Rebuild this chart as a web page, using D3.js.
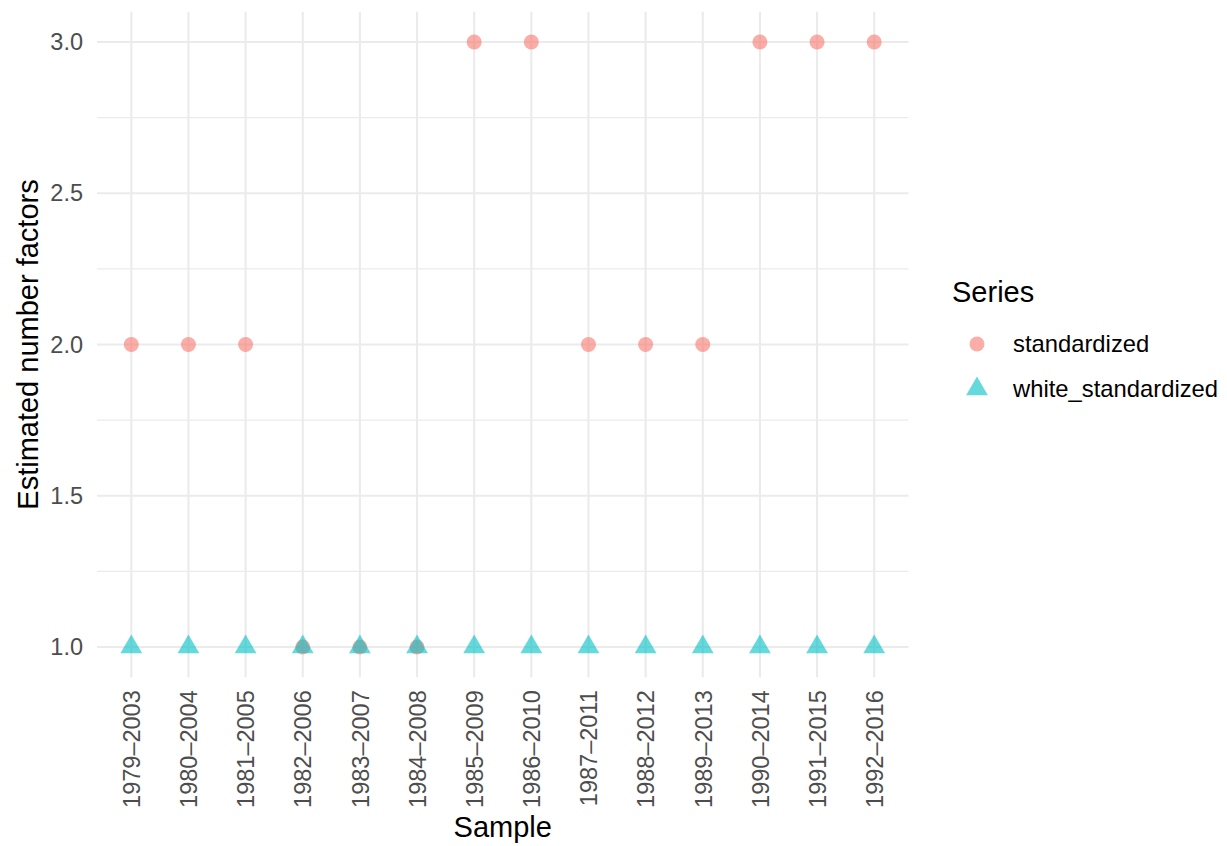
<!DOCTYPE html>
<html>
<head>
<meta charset="utf-8">
<script src="https://cdn.jsdelivr.net/npm/d3@7"></script>
<style>
  html, body { margin: 0; padding: 0; background: #fff; }
  text { font-family: "Liberation Sans", Arial, sans-serif; }
</style>
</head>
<body>
<svg id="chart" width="1227" height="846"></svg>
<script>
const categories = ["1979–2003","1980–2004","1981–2005","1982–2006","1983–2007","1984–2008","1985–2009","1986–2010","1987–2011","1988–2012","1989–2013","1990–2014","1991–2015","1992–2016"];
const standardized = [2,2,2,1,1,1,3,3,2,2,2,3,3,3];
const whiteStandardized = [1,1,1,1,1,1,1,1,1,1,1,1,1,1];
const seriesNames = ["standardized","white_standardized"];
const seriesColors = ["#F8766D","#00BFC4"];
const yTicks = [1.0, 1.5, 2.0, 2.5, 3.0];
const yMinorTicks = [1.25, 1.75, 2.25, 2.75];

const svg = d3.select("#chart");
const panel = {left: 97, right: 908.5, top: 11.75, bottom: 677.25};

const x = d3.scalePoint().domain(categories)
  .range([panel.left, panel.right]).padding(0.6);
const y = d3.scaleLinear().domain([0.9, 3.1]).range([panel.bottom, panel.top]);

const grid = svg.append("g");
grid.selectAll(".minor").data(yMinorTicks).join("line")
  .attr("x1", panel.left).attr("x2", panel.right)
  .attr("y1", d => y(d)).attr("y2", d => y(d))
  .attr("stroke", "#EBEBEB").attr("stroke-width", 1.1);
grid.selectAll(".majory").data(yTicks).join("line")
  .attr("x1", panel.left).attr("x2", panel.right)
  .attr("y1", d => y(d)).attr("y2", d => y(d))
  .attr("stroke", "#EBEBEB").attr("stroke-width", 2.1);
grid.selectAll(".majorx").data(categories).join("line")
  .attr("x1", d => x(d)).attr("x2", d => x(d))
  .attr("y1", panel.top).attr("y2", panel.bottom)
  .attr("stroke", "#EBEBEB").attr("stroke-width", 2.1);

// y axis
const yAxis = d3.axisLeft(y).tickValues(yTicks).tickFormat(d3.format(".1f")).tickSize(0).tickPadding(14);
const yg = svg.append("g").attr("transform", `translate(${panel.left},0)`).call(yAxis);
yg.select(".domain").remove();
yg.selectAll("text").attr("fill", "#4D4D4D").style("font-size", "23.5px")
  .style("font-family", "Liberation Sans, Arial, sans-serif");

// x axis
const xAxis = d3.axisBottom(x).tickSize(0).tickPadding(0);
const xg = svg.append("g").attr("transform", `translate(0,${panel.bottom})`).call(xAxis);
xg.select(".domain").remove();
xg.selectAll("text")
  .attr("fill", "#4D4D4D").style("font-size", "23.5px")
  .style("font-family", "Liberation Sans, Arial, sans-serif")
  .attr("text-anchor", "end")
  .attr("dy", "0.35em")
  .attr("transform", "translate(0,13) rotate(-90)")
  .attr("x", 0).attr("y", 0);

// axis titles
svg.append("text").attr("x", (panel.left + panel.right) / 2).attr("y", 837)
  .attr("text-anchor", "middle").style("font-size", "29px").attr("fill", "#000")
  .text("Sample");
svg.append("text")
  .attr("transform", `translate(38,${(panel.top + panel.bottom) / 2}) rotate(-90)`)
  .attr("text-anchor", "middle").style("font-size", "29px").attr("fill", "#000")
  .text("Estimated number factors");

// points
const circleSym = d3.symbol().type(d3.symbolCircle).size(Math.PI * 7.5 * 7.5);
const triSym = d3.symbol().type(d3.symbolTriangle).size(205);

svg.append("g").selectAll("path").data(standardized).join("path")
  .attr("d", circleSym)
  .attr("transform", (d, i) => `translate(${x(categories[i])},${y(d)})`)
  .attr("fill", seriesColors[0]).attr("fill-opacity", 0.6);
svg.append("g").selectAll("path").data(whiteStandardized).join("path")
  .attr("d", triSym)
  .attr("transform", (d, i) => `translate(${x(categories[i])},${y(d)})`)
  .attr("fill", seriesColors[1]).attr("fill-opacity", 0.6);

// legend
const lg = svg.append("g");
lg.append("text").attr("x", 952).attr("y", 302).style("font-size", "29px").attr("fill", "#000").text("Series");
const legendY = [344, 389];
const syms = [circleSym, triSym];
seriesNames.forEach((s, i) => {
  lg.append("path").attr("d", syms[i]).attr("transform", `translate(977,${legendY[i]})`)
    .attr("fill", seriesColors[i]).attr("fill-opacity", 0.6);
  lg.append("text").attr("x", 1013).attr("y", legendY[i] + 8)
    .style("font-size", "23.8px").attr("fill", "#000").text(s);
});
</script>
</body>
</html>
